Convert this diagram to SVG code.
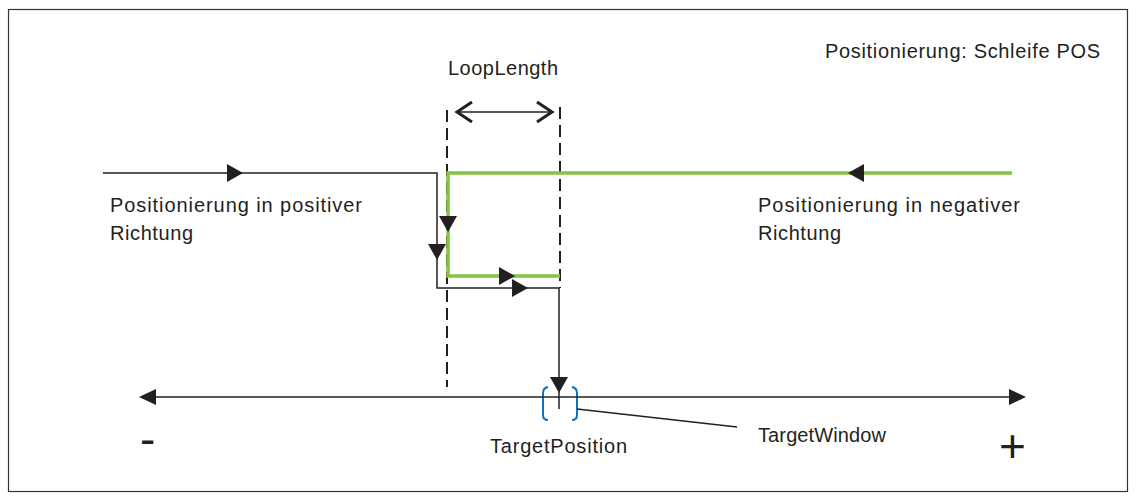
<svg xmlns="http://www.w3.org/2000/svg" xmlns:xlink="http://www.w3.org/1999/xlink" width="1138" height="502" viewBox="0 0 1138 502">
<style>
text{font-family:"Liberation Sans",Arial,sans-serif;font-size:20px;fill:#231f20}
.big{font-size:46px}
.blk{fill:none;stroke:#231f20;stroke-width:1.5}
.grn{fill:none;stroke:#84c441;stroke-width:3.5}
.dash{fill:none;stroke:#231f20;stroke-width:2;stroke-dasharray:12 6}
.chev{fill:none;stroke:#231f20;stroke-width:3}
.brk{fill:none;stroke:#0b74c0;stroke-width:2}
.ah{fill:#231f20}
</style>
<defs>
<path id="tri" d="M-16,-9 L0,0 L-16,9 Z"/>
</defs>
<rect x="8.5" y="9.5" width="1119" height="482" fill="#fff" stroke="#333" stroke-width="1.2"/>
<g id="title"><text x="825" y="58" textLength="275" lengthAdjust="spacing">Positionierung: Schleife POS</text></g>
<g id="looplength">
<text x="448" y="75" textLength="110" lengthAdjust="spacing">LoopLength</text>
</g>
<g id="label-positive">
<text x="110" y="212" textLength="252" lengthAdjust="spacing">Positionierung in positiver</text>
<text x="110" y="240" textLength="83" lengthAdjust="spacing">Richtung</text>
</g>
<g id="label-negative">
<text x="758" y="212" textLength="262" lengthAdjust="spacing">Positionierung in negativer</text>
<text x="758" y="240" textLength="83" lengthAdjust="spacing">Richtung</text>
</g>
<g id="target-position"><text x="490" y="453" textLength="137" lengthAdjust="spacing">TargetPosition</text></g>
<g id="target-window">
<text x="758" y="442" textLength="128" lengthAdjust="spacing">TargetWindow</text>
<path class="brk" d="M548,387 Q543,388 543,393 V415 Q543,420 548,420"/>
<path class="brk" d="M572,387 Q577,388 577,393 V415 Q577,420 572,420"/>
</g>
<g id="minus"><text class="big" x="140" y="455">-</text></g>
<g id="plus"><text class="big" x="999" y="462">+</text></g>
<g id="connectors">
<line class="dash" x1="447" y1="110" x2="447" y2="387"/>
<line class="dash" x1="560" y1="107" x2="560" y2="288"/>
<line class="blk" x1="457" y1="112" x2="552" y2="112"/>
<polyline class="chev" points="472,102 457,112 472,122"/>
<polyline class="chev" points="537,102 552,112 537,122"/>
<path class="grn" d="M1012,173 H448 V276 H560"/>
<path class="blk" d="M103,173 H437 V288 H559 V409"/>
<line x1="150" y1="397" x2="1015" y2="397" stroke="#231f20" stroke-width="1.3"/>
<polygon class="ah" points="139,397 156,389 156,405"/>
<polygon class="ah" points="1026,397 1009,389 1009,405"/>
<line x1="577" y1="409" x2="737" y2="427" stroke="#231f20" stroke-width="1.5"/>
<use xlink:href="#tri" class="ah" transform="translate(243,173)"/>
<use xlink:href="#tri" class="ah" transform="translate(437,260) rotate(90)"/>
<use xlink:href="#tri" class="ah" transform="translate(448,232) rotate(90)"/>
<use xlink:href="#tri" class="ah" transform="translate(515,276)"/>
<use xlink:href="#tri" class="ah" transform="translate(528,288)"/>
<use xlink:href="#tri" class="ah" transform="translate(848,173) rotate(180)"/>
<use xlink:href="#tri" class="ah" transform="translate(559,393) rotate(90)"/>
</g>
</svg>
